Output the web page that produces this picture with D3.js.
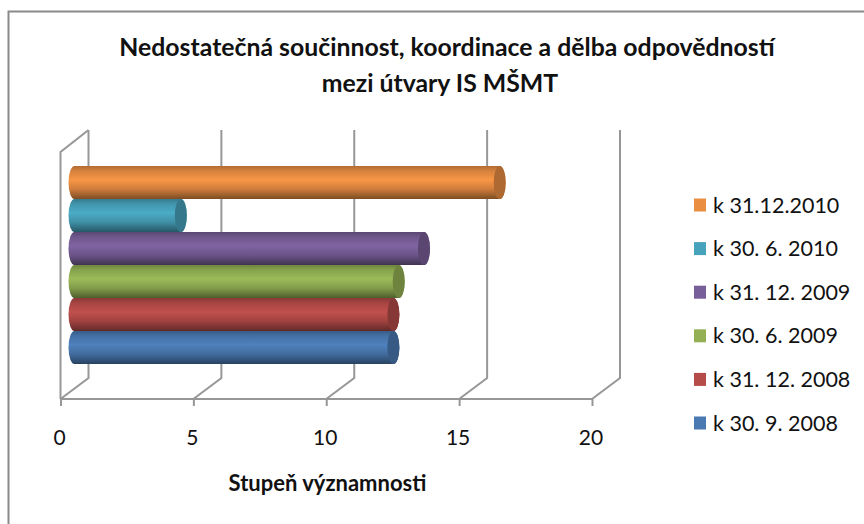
<!DOCTYPE html>
<html><head><meta charset="utf-8">
<script src="https://cdn.jsdelivr.net/npm/d3@7"></script>
<style>html,body{margin:0;padding:0;background:#fff}svg{display:block}text{font-family:Lato,"Open Sans",sans-serif;fill:#111}</style>
</head><body><svg id="c" width="864" height="524"></svg>
<script>
const categories=["k 30. 9. 2008","k 31. 12. 2008","k 30. 6. 2009","k 31. 12. 2009","k 30. 6. 2010","k 31.12.2010"];
const values=[12,12,12.2,13.15,4,16];
const colors=["#4f81bd","#c0504d","#9bbb59","#8064a2","#4bacc6","#f79646"];
const ticks=[0,5,10,15,20];
const titleLines=["Nedostatečná součinnost, koordinace a dělba odpovědností","mezi útvary IS MŠMT"];
const axisTitle="Stupeň významnosti";

const svg=d3.select("#c");
const defs=svg.append("defs");
const x=d3.scaleLinear().domain([0,20]).range([60.5,592]);
const y=d3.scaleBand().domain(categories).range([364,166]);
const dx=28,dy=21,axisY=399,topFront=152;
const line="#979797";
// frame
svg.append("path").attr("d","M8.5,524V11.5H864").attr("fill","none").attr("stroke","#8a8a8a").attr("stroke-width",2);
// title
svg.append("g").selectAll("text").data(titleLines).join("text")
 .attr("x",(d,i)=>i?440:447).attr("y",(d,i)=>56+i*36).attr("text-anchor","middle")
 .attr("font-size",24.8).attr("font-weight",700).text(d=>d);
// walls
const grid=svg.append("g").attr("fill","none").attr("stroke",line).attr("stroke-width",2);
grid.append("path").attr("d",`M${x(0)},${axisY}V${topFront}L${x(0)+dx},${topFront-dy-1}`);
grid.selectAll("path.g").data(ticks).join("path").attr("class","g")
 .attr("d",t=>`M${x(t)},${axisY}L${x(t)+dx},${axisY-dy}V${topFront-dy-1}`);
// axis
const ax=svg.append("g").attr("transform",`translate(0,${axisY})`)
 .call(d3.axisBottom(x).tickValues(ticks).tickSize(7).tickPadding(24).tickFormat(d3.format("d")));
ax.selectAll("line,path").attr("stroke",line).attr("stroke-width",2);
ax.select(".domain").attr("d",`M${x(0)},0H${x(20)}`);
ax.selectAll("text").attr("font-size",21).attr("font-family","Lato").attr("fill","#222").attr("dx",-1.5);
// bars
const g=svg.append("g");
const rx=6,off=14;
categories.forEach((c,i)=>{
 const col=d3.rgb(colors[i]),id="grad"+i;
 const gr=defs.append("linearGradient").attr("id",id).attr("x1",0).attr("y1",0).attr("x2",0).attr("y2",1);
 [[0,col.darker(0.95)],[0.15,col.darker(0.4)],[0.42,col],[0.7,col.darker(0.5)],[1,col.darker(1.9)]]
  .forEach(([o,k])=>gr.append("stop").attr("offset",o).attr("stop-color",k));
});
const order=d3.range(categories.length).reverse();
const bars=g.selectAll("g").data(order).join("g");
bars.append("path").attr("fill",i=>`url(#grad${i})`).attr("d",i=>{
 const t=y(categories[i]),b=t+y.bandwidth(),r=y.bandwidth()/2;
 const x0=x(0)+off,x1=x(values[i])+off;
 return `M${x0},${t}H${x1}A${rx},${r} 0 0 1 ${x1},${b}H${x0}A${rx},${r} 0 0 1 ${x0},${t}Z`;
});
bars.append("ellipse").attr("cx",i=>x(values[i])+off)
 .attr("cy",i=>y(categories[i])+y.bandwidth()/2).attr("rx",rx).attr("ry",y.bandwidth()/2)
 .attr("fill",i=>d3.rgb(colors[i]).darker(1));
// legend
const ly=d3.scalePoint().domain(categories).range([423,205]);
const lg=svg.append("g").selectAll("g").data(categories).join("g").attr("transform",d=>`translate(0,${ly(d)})`);
lg.append("rect").attr("x",694).attr("y",-6.5).attr("width",12).attr("height",13)
 .attr("fill",(d,i)=>d3.rgb(colors[i]).darker(0.15));
lg.append("text").attr("x",713).attr("y",7.5).attr("font-size",21.5).attr("fill","#222").text(d=>d);
// axis title
svg.append("text").attr("x",327.5).attr("y",491).attr("text-anchor","middle").attr("font-size",22).attr("font-weight",700).text(axisTitle);
</script></body></html>
